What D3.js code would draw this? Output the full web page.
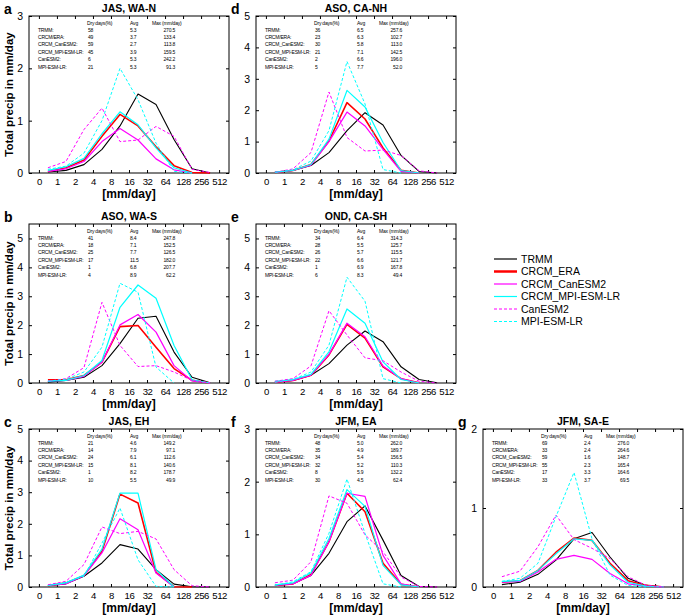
<!DOCTYPE html>
<html><head><meta charset="utf-8">
<script src="https://cdn.jsdelivr.net/npm/d3@7"></script>
<style>
html,body{margin:0;padding:0;background:#fff;}
svg{display:block;font-family:"Liberation Sans",Arial,Helvetica,sans-serif;}
</style></head>
<body><svg id="chart" width="685" height="616"></svg>
<script>
// ---------- data ----------
const categories = ["0","1","2","4","8","16","32","64","128","256","512"];
const seriesNames = ["TRMM","CRCM_ERA","CRCM_CanESM2","CRCM_MPI-ESM-LR","CanESM2","MPI-ESM-LR"];
const statLabels = ["TRMM:","CRCM/ERA:","CRCM_CanESM2:","CRCM_MPI-ESM-LR:","CanESM2:","MPI-ESM-LR:"];
const statHeaders = ["Dry days(%)","Avg","Max (mm/day)"];
const panelLetters = ["a","b","c","d","e","f","g"];
const panelTitles = ["JAS, WA-N","ASO, WA-S","JAS, EH","ASO, CA-NH","OND, CA-SH","JFM, EA","JFM, SA-E"];
const panelYMax = [3,5.5,5,5,5.5,3,2];

// values per bin (bins 0-1,1-2,2-4,...,256-512); rows follow seriesNames
const valuesA = [
  [0.02,0.05,0.16,0.45,0.9,1.51,1.31,0.64,0.08,0],
  [0.03,0.1,0.25,0.7,1.12,0.9,0.5,0.14,0.01,0],
  [0.03,0.08,0.22,0.6,0.85,0.63,0.27,0.06,0,null],
  [0.05,0.12,0.28,0.75,1.17,0.92,0.48,0.1,0,null],
  [0.1,0.22,0.83,1.24,0.6,0.63,0.89,0.7,0.07,0.01],
  [0.07,0.13,0.38,1.0,2.0,1.4,0.57,0.03,0,null]
];
const valuesB = [
  [0.03,0.09,0.2,0.6,1.36,2.24,2.31,1.07,0.2,0.01],
  [0.11,0.11,0.26,0.72,1.95,1.99,1.24,0.5,0.09,0],
  [0.06,0.09,0.23,0.72,2.01,2.37,1.76,0.6,0.07,0],
  [0.06,0.09,0.26,0.78,2.62,3.39,2.93,1.3,0.11,0],
  [0.06,0.15,0.53,2.79,1.3,0.57,0.6,0.38,0.09,0],
  [0.06,0.13,0.38,1.24,3.45,3.14,0.55,0,null,null]
];
const valuesC = [
  [0.04,0.1,0.34,0.76,1.34,1.2,0.55,0.09,0.01,0],
  [0.04,0.13,0.36,1.13,2.94,2.66,0.46,0.01,0,null],
  [0.05,0.1,0.36,1.08,2.16,1.81,0.44,0,null,null],
  [0.05,0.13,0.38,1.2,2.97,2.97,0.55,0,null,null],
  [0.07,0.18,0.71,1.9,1.69,1.76,1.52,0.55,0.04,0],
  [0.04,0.15,0.34,1.39,2.5,0.86,0.02,0,null,null]
];
const valuesD = [
  [0.02,0.08,0.24,0.65,1.35,1.92,1.53,0.56,0.05,0],
  [0.02,0.08,0.27,1.02,2.24,1.72,0.8,0.09,0,null],
  [0.02,0.08,0.25,1.0,1.94,1.5,0.75,0.05,0,null],
  [0.03,0.08,0.27,1.08,2.63,2.1,0.97,0.08,0,null],
  [0.02,0.13,0.65,2.58,1.13,0.7,0.73,0.56,0.07,0],
  [0.02,0.1,0.38,1.35,3.55,2.2,0.11,0,null,null]
];
const valuesE = [
  [0.03,0.09,0.27,0.67,1.31,1.8,1.43,0.56,0.12,0.01],
  [0.03,0.09,0.27,0.97,2.03,1.55,0.56,0.15,0.01,null],
  [0.03,0.09,0.27,0.99,2.07,1.6,0.59,0.15,0,null],
  [0.06,0.12,0.3,1.08,2.56,2.07,0.73,0.12,0,null],
  [0.06,0.15,0.59,2.5,1.66,0.87,0.77,0.38,0.06,0],
  [0.03,0.12,0.38,1.31,3.66,2.83,0.15,0,null,null]
];
const valuesF = [
  [0.03,0.06,0.22,0.64,1.24,1.54,0.89,0.22,0.01,0],
  [0.03,0.06,0.24,0.86,1.78,1.43,0.45,0.05,0,null],
  [0.03,0.06,0.22,0.86,1.78,1.72,0.6,0.06,0,null],
  [0.04,0.08,0.27,0.92,1.85,1.53,0.41,0.04,0,null],
  [0.08,0.13,0.48,1.73,1.59,0.99,0.67,0.19,0.01,0],
  [0.03,0.1,0.29,1.02,2.05,1.02,0.06,0,null,null]
];
const valuesG = [
  [0.03,0.06,0.16,0.34,0.61,0.69,0.38,0.11,0.02,0],
  [0.06,0.08,0.21,0.44,0.62,0.59,0.3,0.08,0.02,0],
  [0.06,0.07,0.19,0.35,0.4,0.35,0.17,0.04,0.01,0],
  [0.07,0.08,0.21,0.42,0.61,0.59,0.28,0.06,0.01,0],
  [0.13,0.2,0.51,0.91,0.6,0.49,0.36,0.13,0.02,0],
  [0.07,0.11,0.3,0.89,1.45,0.61,0.15,0.02,0,null]
];
const panelValues = [valuesA,valuesB,valuesC,valuesD,valuesE,valuesF,valuesG];

// statistics tables: [dry days, avg, max] per series
const statsA = [["58","5.3","270.5"],["49","3.7","133.4"],["59","2.7","113.8"],["45","3.9","159.5"],["6","5.3","242.2"],["21","5.3","91.3"]];
const statsB = [["41","8.4","247.8"],["18","7.1","152.5"],["25","7.7","126.5"],["17","11.5","182.0"],["1","6.8","207.7"],["4","8.9","62.2"]];
const statsC = [["21","4.6","149.2"],["14","7.9","97.1"],["24","6.1","112.6"],["15","8.1","140.6"],["1","8.2","178.7"],["10","5.5","49.9"]];
const statsD = [["36","6.5","257.6"],["23","6.3","102.7"],["30","5.8","113.0"],["21","7.1","142.5"],["2","6.6","196.0"],["5","7.7","52.0"]];
const statsE = [["34","6.4","314.3"],["28","5.5","125.7"],["26","5.7","115.5"],["22","6.6","121.7"],["1","6.9","167.8"],["6","8.3","49.4"]];
const statsF = [["48","5.0","262.0"],["35","4.9","189.7"],["34","5.4","156.5"],["32","5.2","110.3"],["8","5.9","132.2"],["30","4.5","62.4"]];
const statsG = [["69","2.4","276.0"],["33","2.4","264.6"],["59","1.6","148.7"],["55","2.3","165.4"],["17","3.3","164.6"],["33","3.7","69.5"]];
const panelStats = [statsA,statsB,statsC,statsD,statsE,statsF,statsG];

// ---------- styles ----------
const seriesColor = ["#000000","#ff0000","#ff00ff","#00ffff","#ff00ff","#00ffff"];
const seriesWidth = [1.1,1.6,1.2,1.2,1.0,1.0];
const seriesDash = [null,null,null,null,"3,2","3,2"];

// ---------- layout ----------
const colLeft = [29,256,483];
const rowTB = [[16,173],[224,383],[429,587]];
const panelPos = [[0,0],[0,1],[0,2],[1,0],[1,1],[1,2],[2,2]]; // [col,row]
const W = 200;

const svg = d3.select("#chart");

panelValues.forEach((vals,p)=>{
  const [c,r] = panelPos[p];
  const left = colLeft[c], right = left+W;
  const [top,bottom] = rowTB[r];
  const g = svg.append("g");
  const x = d3.scaleLinear().domain([-0.55,10.55]).range([left,right]);
  const y = d3.scaleLinear().domain([0,panelYMax[p]]).range([bottom,top]);

  // frame
  g.append("rect").attr("x",left).attr("y",top).attr("width",W).attr("height",bottom-top)
    .attr("fill","none").attr("stroke","#000").attr("stroke-width",1);

  const yTicks = d3.range(0,Math.floor(panelYMax[p])+1,1);
  const xTicks = d3.range(categories.length);

  // axes with inward ticks
  const xb = g.append("g").attr("transform",`translate(0,${bottom})`)
    .call(d3.axisBottom(x).tickValues(xTicks).tickFormat(i=>categories[i]).tickSizeInner(-3).tickSizeOuter(0).tickPadding(5));
  const xt = g.append("g").attr("transform",`translate(0,${top})`)
    .call(d3.axisTop(x).tickValues(xTicks).tickFormat("").tickSizeInner(-3).tickSizeOuter(0));
  const yl = g.append("g").attr("transform",`translate(${left},0)`)
    .call(d3.axisLeft(y).tickValues(yTicks).tickFormat(d3.format("d")).tickSizeInner(-3).tickSizeOuter(0).tickPadding(6));
  const yr = g.append("g").attr("transform",`translate(${right},0)`)
    .call(d3.axisRight(y).tickValues(yTicks).tickFormat("").tickSizeInner(-3).tickSizeOuter(0));
  [xb,xt,yl,yr].forEach(a=>{
    a.select(".domain").remove();
    a.selectAll("line").attr("stroke","#000");
    a.selectAll("text").attr("fill","#000").attr("font-family","Liberation Sans, Arial, sans-serif");
  });
  xb.selectAll("text").attr("font-size",9.6).attr("letter-spacing","-0.45px");
  yl.selectAll("text").attr("font-size",10.5);

  // lines
  const line = d3.line().defined(d=>d!=null).x((d,i)=>x(i+0.5)).y(d=>y(d));
  vals.forEach((s,k)=>{
    g.append("path").datum(s).attr("d",line).attr("fill","none")
      .attr("stroke",seriesColor[k]).attr("stroke-width",seriesWidth[k])
      .attr("stroke-dasharray",seriesDash[k]).attr("stroke-linejoin","round");
  });

  // stats table
  const st = g.append("g").attr("font-size",5).attr("letter-spacing","-0.2px").attr("fill","#000");
  st.append("text").attr("x",left+58).attr("y",top+9).text(statHeaders[0]);
  st.append("text").attr("x",left+105).attr("y",top+9).attr("text-anchor","middle").text(statHeaders[1]);
  st.append("text").attr("x",left+123).attr("y",top+9).text(statHeaders[2]);
  panelStats[p].forEach((row,k)=>{
    const yy = top+15.5+k*7.4;
    st.append("text").attr("x",left+9).attr("y",yy).text(statLabels[k]);
    st.append("text").attr("x",left+59).attr("y",yy).text(row[0]);
    st.append("text").attr("x",left+101).attr("y",yy).text(row[1]);
    st.append("text").attr("x",left+146).attr("y",yy).attr("text-anchor","end").text(row[2]);
  });

  // title, letter, x label
  g.append("text").attr("x",(left+right)/2).attr("y",top-4).attr("text-anchor","middle")
    .attr("font-size",10.5).attr("font-weight","bold").text(panelTitles[p]);
  g.append("text").attr("x",left-25).attr("y",top-2).attr("font-size",14).attr("font-weight","bold").text(panelLetters[p]);
  g.append("text").attr("x",(left+right)/2).attr("y",bottom+25).attr("text-anchor","middle")
    .attr("font-size",12).attr("font-weight","bold").text("[mm/day]");
  if (c===0) {
    g.append("text").attr("transform",`translate(13,${(top+bottom)/2}) rotate(-90)`)
      .attr("text-anchor","middle").attr("font-size",11.5).attr("font-weight","bold")
      .text("Total precip in mm/day");
  }
});

// legend
const leg = svg.append("g");
seriesNames.forEach((n,k)=>{
  const yy = 259 + k*12.5;
  leg.append("line").attr("x1",494).attr("x2",517).attr("y1",yy).attr("y2",yy)
    .attr("stroke",seriesColor[k]).attr("stroke-width",k===1?2.5:1.2).attr("stroke-dasharray",seriesDash[k]);
  leg.append("text").attr("x",521).attr("y",yy+3.8).attr("font-size",10.5).text(n);
});
</script>
</body></html>
